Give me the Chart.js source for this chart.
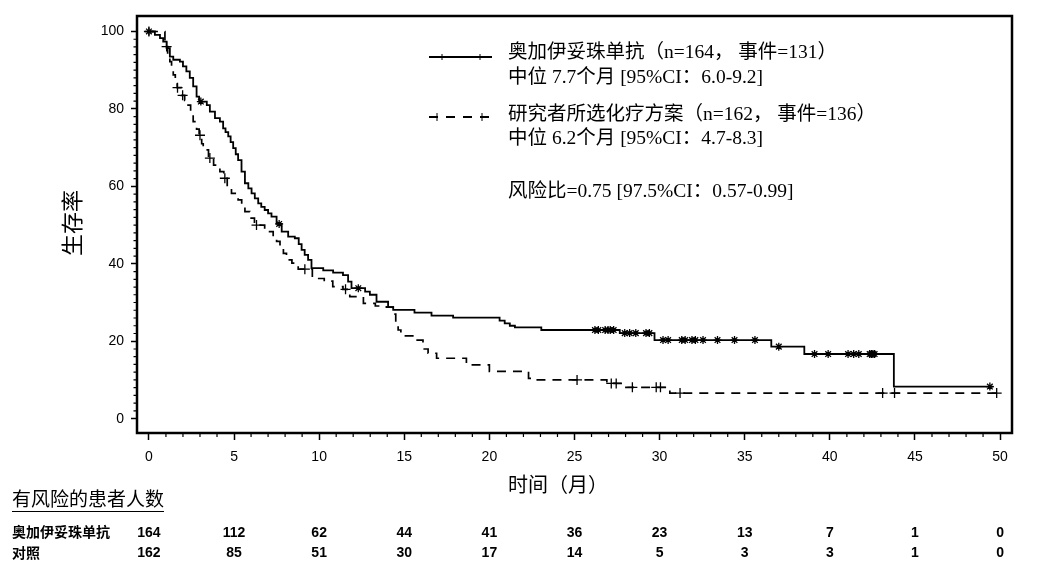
<!DOCTYPE html>
<html>
<head>
<meta charset="utf-8">
<script src="https://cdn.jsdelivr.net/npm/chart.js@4/dist/chart.umd.min.js"></script>
<style>
  html, body { margin: 0; padding: 0; background: #fff; }
  #km { display: block; }
</style>
</head>
<body>
<canvas id="km" width="1046" height="574"></canvas>
<script>
// 刻度
const timeTicks = [0, 5, 10, 15, 20, 25, 30, 35, 40, 45, 50];
const survTicks = [0, 20, 40, 60, 80, 100];

// 奥加伊妥珠单抗 KM 曲线（事件时间 / 生存率）
const inoTimes = [0, 0.35, 0.65, 0.84, 1.04, 1.23, 1.43, 1.82, 2.0, 2.2, 2.4, 2.6, 2.8, 2.95, 3.4, 3.58, 3.88, 4.17, 4.36, 4.5,
  4.66, 4.8, 4.95, 5.1, 5.24, 5.44, 5.64, 5.84, 6.03, 6.22, 6.42, 6.6, 6.8, 7.0, 7.2, 7.5, 7.8, 8.18, 8.57, 8.8, 8.97, 9.15, 9.35, 9.55,
  10.24, 10.82, 11.4, 11.7, 11.9, 12.7, 12.98, 13.37, 14.05, 14.35, 15.6, 16.6, 17.87, 20.6, 20.9, 21.2, 21.5, 23.05, 27.66, 29.7,
  36.56, 38.5, 43.76, 49.6];
const inoSurv = [100, 99.1, 98.3, 97.4, 95.7, 93.5, 92.7, 92.2, 91.0, 89.7, 88.0, 85.8, 83.2, 81.9, 81.0, 79.3, 77.6, 76.7, 75.0, 74.0,
  72.9, 71.4, 69.9, 68.3, 66.8, 63.8, 60.8, 59.5, 58.2, 56.9, 55.6, 54.7, 53.9, 53.0, 52.2, 50.3, 48.3, 47.0, 46.6, 45.1, 43.6, 42.3, 41.0, 38.9,
  38.3, 37.7, 37.1, 35.4, 33.7, 32.8, 32.0, 30.2, 28.8, 28.1, 27.4, 26.6, 26.1, 25.3, 24.6, 24.0, 23.6, 22.9, 22.1, 20.3,
  18.6, 16.7, 8.3, 8.3];
const inoCensor = [0, 3.05, 7.65, 12.3, 26.2, 26.4, 26.8, 26.97, 27.1, 27.3, 27.95, 28.24, 28.6, 29.2, 29.4,
  30.2, 30.5, 31.3, 31.5, 31.9, 32.1, 32.55, 33.4, 34.4, 35.6, 37.0, 39.1, 39.9, 41.07, 41.4, 41.7, 42.34, 42.44, 42.53, 42.63, 49.4];

// 研究者所选化疗方案 KM 曲线
const chemoTimes = [0, 0.94, 1.1, 1.23, 1.33, 1.43, 1.55, 1.66, 1.9, 2.1, 2.3, 2.45, 2.6, 2.8, 2.95, 3.1, 3.19, 3.5, 3.8, 4.17, 4.4,
  4.6, 4.85, 5.24, 5.45, 5.64, 5.93, 6.2, 6.8, 7.3, 7.5, 7.7, 7.9, 8.08, 8.4, 8.77, 9.6,
  10.3, 10.8, 11.4, 11.8, 12.6, 13.3, 13.95, 14.35, 14.5, 14.64, 14.8, 15.5, 16.1, 16.4, 16.9, 18.65, 20.0, 22.3, 22.6,
  26.9, 27.85, 30.6, 49.9];
const chemoSurv = [100, 96.1, 94.0, 92.2, 90.5, 88.8, 87.0, 85.5, 83.5, 82.2, 81.0, 79.0, 76.7, 74.8, 73.2, 71.0, 69.4, 67.3, 65.5, 63.8, 62.1,
  60.0, 58.2, 56.5, 55.0, 53.5, 51.8, 50.0, 48.3, 47.0, 45.8, 44.4, 42.7, 41.0, 40.2, 38.6, 36.2,
  35.5, 34.1, 33.4, 31.5, 29.8, 29.1, 28.8, 27.0, 24.5, 22.9, 21.4, 20.3, 18.0, 16.9, 15.6, 13.9, 12.2, 10.4, 10.0,
  9.1, 8.1, 6.6, 6.6];
const chemoCensor = [0, 1.04, 1.68, 1.98, 3.0, 3.58, 4.46, 6.32, 9.16, 11.55, 25.15, 27.16, 27.45, 28.4, 29.8, 30.05, 31.2, 43.1, 43.8, 49.8];

// 有风险的患者人数
const atRiskIno = [164, 112, 62, 44, 41, 36, 23, 13, 7, 1, 0];
const atRiskChemo = [162, 85, 51, 30, 17, 14, 5, 3, 3, 1, 0];

const CJK = '"Noto Sans CJK SC"';
const LEG_FONT = '19.5px "Liberation Serif", ' + CJK;

function getEl(id) { return document.getElementById(id); }

function toPoints(times, surv) {
    return times.map((t, i) => ({ x: t, y: surv[i] }));
}

// 删失点取所在曲线的生存率
function censorPoints(cTimes, times, surv) {
    return cTimes.map(t => {
        let v = surv[0];
        for (let i = 0; i < times.length; i++) { if (times[i] <= t) v = surv[i]; }
        return { x: t, y: v };
    });
}

const kmDecor = {
    id: 'kmDecor',
    afterDraw(chart) {
        const ctx = chart.ctx;
        const a = chart.chartArea;
        const xs = chart.scales.x, ys = chart.scales.y;
        ctx.save();
        ctx.strokeStyle = '#000';
        ctx.fillStyle = '#000';

        // 边框
        ctx.lineWidth = 2.5;
        ctx.strokeRect(a.left, a.top, a.right - a.left, a.bottom - a.top);

        // 次刻度
        ctx.lineWidth = 1.2;
        ctx.beginPath();
        for (let t = 0; t <= 50; t++) {
            if (t % 5 === 0) continue;
            const px = xs.getPixelForValue(t);
            ctx.moveTo(px, a.bottom); ctx.lineTo(px, a.bottom + 4);
        }
        for (let v = 0; v <= 100; v += 2) {
            if (v % 20 === 0) continue;
            const py = ys.getPixelForValue(v);
            ctx.moveTo(a.left, py); ctx.lineTo(a.left - 3.5, py);
        }
        ctx.stroke();

        // 坐标轴标题
        ctx.font = '20px ' + CJK;
        ctx.textAlign = 'center';
        ctx.textBaseline = 'middle';
        ctx.fillText('时间（月）', 558, 484);
        ctx.save();
        ctx.translate(72, 223);
        ctx.rotate(-Math.PI / 2);
        ctx.font = '22px ' + CJK;
        ctx.fillText('生存率', 0, 0);
        ctx.restore();

        // 图例
        ctx.lineWidth = 1.8;
        ctx.beginPath();
        ctx.moveTo(429, 57); ctx.lineTo(492, 57);
        ctx.stroke();
        ctx.lineWidth = 1;
        ctx.beginPath();
        [442, 480].forEach(px => { ctx.moveTo(px, 54); ctx.lineTo(px, 60); ctx.moveTo(px - 3, 57); ctx.lineTo(px + 3, 57); });
        ctx.stroke();
        ctx.lineWidth = 1.8;
        ctx.setLineDash([9, 8]);
        ctx.beginPath();
        ctx.moveTo(429, 117); ctx.lineTo(492, 117);
        ctx.stroke();
        ctx.setLineDash([]);
        ctx.lineWidth = 1;
        ctx.beginPath();
        [437, 482].forEach(px => { ctx.moveTo(px, 113); ctx.lineTo(px, 121); });
        ctx.stroke();

        ctx.font = LEG_FONT;
        ctx.textAlign = 'left';
        ctx.fillText('奥加伊妥珠单抗（n=164， 事件=131）', 508, 53);
        ctx.fillText('中位 7.7个月 [95%CI：6.0-9.2]', 508, 78);
        ctx.fillText('研究者所选化疗方案（n=162， 事件=136）', 508, 115);
        ctx.fillText('中位 6.2个月 [95%CI：4.7-8.3]', 508, 139);
        ctx.fillText('风险比=0.75 [97.5%CI：0.57-0.99]', 508, 192);

        // 有风险的患者人数
        ctx.font = '19px ' + CJK;
        ctx.fillText('有风险的患者人数', 12, 499);
        const w = ctx.measureText('有风险的患者人数').width;
        ctx.lineWidth = 1.2;
        ctx.beginPath();
        ctx.moveTo(12, 511.5); ctx.lineTo(12 + w, 511.5);
        ctx.stroke();

        ctx.font = 'bold 14px ' + CJK;
        ctx.fillText('奥加伊妥珠单抗', 12, 532);
        ctx.fillText('对照', 12, 553);

        ctx.font = 'bold 14px "Liberation Sans", Arial';
        ctx.textAlign = 'center';
        timeTicks.forEach((t, i) => {
            const px = xs.getPixelForValue(t);
            ctx.fillText(String(atRiskIno[i]), px, 533);
            ctx.fillText(String(atRiskChemo[i]), px, 553);
        });
        ctx.restore();
    }
};

function startEngine() {
    if (typeof Chart === 'undefined') {
        document.body.innerHTML = "<h3 style='color:red'>Error: Chart.js 未加载</h3>";
        return;
    }
    const tickFont = { family: '"Liberation Sans", Arial', size: 14 };
    new Chart(getEl('km').getContext('2d'), {
        type: 'line',
        data: {
            datasets: [
                { label: '奥加伊妥珠单抗', data: toPoints(inoTimes, inoSurv), stepped: 'before',
                  borderColor: '#000', borderWidth: 1.8, pointRadius: 0, fill: false },
                { label: '研究者所选化疗方案', data: toPoints(chemoTimes, chemoSurv), stepped: 'before',
                  borderColor: '#000', borderWidth: 1.7, borderDash: [9, 7], pointRadius: 0, fill: false },
                { label: 'censor1', data: censorPoints(inoCensor, inoTimes, inoSurv), showLine: false,
                  pointStyle: 'star', pointRadius: 4, borderColor: '#000', borderWidth: 1.3, backgroundColor: '#000' },
                { label: 'censor2', data: censorPoints(chemoCensor, chemoTimes, chemoSurv), showLine: false,
                  pointStyle: 'cross', pointRadius: 5, borderColor: '#000', borderWidth: 1.3, backgroundColor: '#000' }
            ]
        },
        options: {
            responsive: false,
            animation: false,
            devicePixelRatio: 1,
            layout: { padding: { top: 16, right: 34, left: 0, bottom: 0 } },
            plugins: { legend: { display: false }, tooltip: { enabled: false } },
            scales: {
                x: {
                    type: 'linear', min: -0.7, max: 50.7,
                    afterBuildTicks: s => { s.ticks = timeTicks.map(v => ({ value: v })); },
                    afterFit: s => { s.height = 141; },
                    grid: { drawOnChartArea: false, tickLength: 7, tickColor: '#000', tickWidth: 1.5 },
                    border: { display: false },
                    ticks: { font: tickFont, color: '#000', padding: 9, maxRotation: 0, autoSkip: false }
                },
                y: {
                    type: 'linear', min: -3.7, max: 104,
                    afterBuildTicks: s => { s.ticks = survTicks.map(v => ({ value: v })); },
                    afterFit: s => { s.width = 137; },
                    grid: { drawOnChartArea: false, tickLength: 6, tickColor: '#000', tickWidth: 1.5 },
                    border: { display: false },
                    ticks: { font: tickFont, color: '#000', padding: 7, autoSkip: false }
                }
            }
        },
        plugins: [kmDecor]
    });
}

document.addEventListener('DOMContentLoaded', () => {
    startEngine();
});
</script>
</body>
</html>
